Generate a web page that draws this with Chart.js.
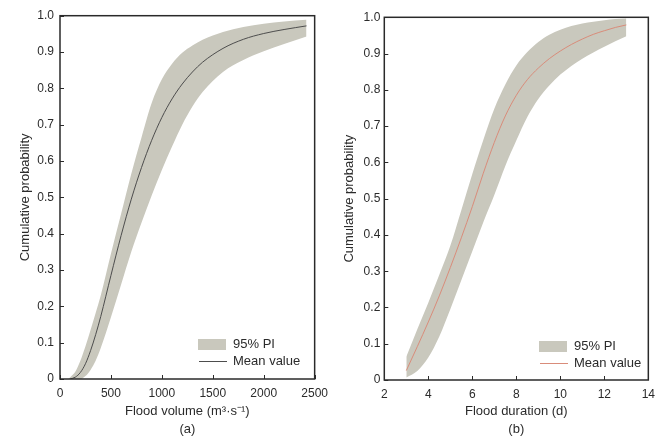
<!DOCTYPE html>
<html>
<head>
<meta charset="utf-8">
<script src="https://cdn.jsdelivr.net/npm/chart.js@4.4.0/dist/chart.umd.min.js"></script>
<style>
  body { margin: 0; background: #fff; width: 662px; height: 437px; position: relative; overflow: hidden; }
  canvas { position: absolute; top: 0; }
  #chartA { left: 0; }
  #chartB { left: 331px; }
</style>
</head>
<body>
<canvas id="chartA" width="335" height="437"></canvas>
<canvas id="chartB" width="331" height="437"></canvas>
<script>
// (a) flood volume
var volX     = [80, 100, 150, 200, 250, 300, 350, 400, 500, 600, 700, 800, 900, 1000, 1100, 1200, 1300, 1400, 1600, 1800, 2000, 2200, 2420];
var volUpper = [0, 0.005, 0.02, 0.05, 0.09, 0.135, 0.182, 0.23, 0.345, 0.455, 0.565, 0.665, 0.76, 0.825, 0.868, 0.898, 0.918, 0.934, 0.955, 0.969, 0.978, 0.984, 0.989];
var volMean  = [null, 0, 0.005, 0.018, 0.042, 0.078, 0.122, 0.172, 0.285, 0.395, 0.495, 0.582, 0.657, 0.72, 0.771, 0.812, 0.845, 0.872, 0.91, 0.935, 0.951, 0.962, 0.972];
var volLower = [0, 0, 0, 0, 0.008, 0.025, 0.05, 0.085, 0.17, 0.26, 0.35, 0.43, 0.505, 0.575, 0.64, 0.7, 0.75, 0.79, 0.845, 0.878, 0.902, 0.922, 0.943];
var volTicks = [0, 500, 1000, 1500, 2000, 2500];

// (b) flood duration
var durX     = [3, 3.5, 4, 4.5, 5, 5.5, 6, 6.5, 7, 7.5, 8, 8.5, 9, 9.5, 10, 10.5, 11, 11.5, 12, 12.5, 13];
var durUpper = [0.064, 0.14, 0.213, 0.29, 0.37, 0.468, 0.568, 0.662, 0.748, 0.815, 0.867, 0.904, 0.932, 0.952, 0.966, 0.976, 0.983, 0.988, 0.992, 0.995, 0.997];
var durMean  = [0.026, 0.092, 0.16, 0.232, 0.31, 0.392, 0.478, 0.57, 0.655, 0.728, 0.785, 0.828, 0.86, 0.886, 0.907, 0.925, 0.94, 0.953, 0.963, 0.972, 0.979];
var durLower = [0.007, 0.025, 0.062, 0.12, 0.195, 0.275, 0.355, 0.435, 0.51, 0.59, 0.66, 0.725, 0.775, 0.812, 0.842, 0.866, 0.886, 0.903, 0.919, 0.934, 0.948];
var durTicks = [2, 4, 6, 8, 10, 12, 14];

var probTicks = [0, 0.1, 0.2, 0.3, 0.4, 0.5, 0.6, 0.7, 0.8, 0.9, 1.0];

var bandColor = '#c9c8bd';
var textColor = '#2b2b2b';

function pts(xs, ys) {
  return xs.map(function (x, i) { return { x: x, y: ys[i] }; });
}

// box round the plot and short ticks pointing inwards
var frameAndTicks = {
  id: 'frameAndTicks',
  afterDatasetsDraw: function (chart) {
    var ctx = chart.ctx, a = chart.chartArea;
    var xs = chart.scales.x, ys = chart.scales.y;
    ctx.save();
    ctx.strokeStyle = '#2a2a2a';
    ctx.lineWidth = 1;
    ctx.beginPath();
    xs.ticks.forEach(function (t) {
      var px = Math.round(xs.getPixelForValue(t.value)) + 0.5;
      ctx.moveTo(px, a.bottom);
      ctx.lineTo(px, a.bottom - 4);
    });
    ys.ticks.forEach(function (t) {
      var py = Math.round(ys.getPixelForValue(t.value)) + 0.5;
      ctx.moveTo(a.left, py);
      ctx.lineTo(a.left + 4, py);
    });
    ctx.stroke();
    ctx.lineWidth = 1.5;
    ctx.strokeRect(a.left, a.top, a.right - a.left, a.bottom - a.top);
    ctx.restore();
  }
};

// legend drawn inside the plot, lower right
var bandLegend = {
  id: 'bandLegend',
  afterDraw: function (chart, args, opts) {
    var ctx = chart.ctx;
    var ds = chart.data.datasets;
    var x = opts.x, y = opts.y;
    ctx.save();
    ctx.fillStyle = bandColor;
    ctx.fillRect(x, y, 28, 11);
    ctx.strokeStyle = ds[0].borderColor;
    ctx.lineWidth = 1;
    ctx.beginPath();
    ctx.moveTo(x + 1, y + 22.5);
    ctx.lineTo(x + 29, y + 22.5);
    ctx.stroke();
    ctx.fillStyle = textColor;
    ctx.font = '13px "Liberation Sans", Arial, sans-serif';
    ctx.textBaseline = 'middle';
    ctx.fillText(ds[1].label, x + 35, y + 5.5);
    ctx.fillText(ds[0].label, x + 35, y + 22.5);
    ctx.restore();
  }
};

function makeChart(id, cfg) {
  return new Chart(document.getElementById(id), {
    type: 'line',
    data: {
      datasets: [
        { label: 'Mean value', data: pts(cfg.xs, cfg.mean), borderColor: cfg.meanColor, borderWidth: 1,
          pointRadius: 0, fill: false, cubicInterpolationMode: 'monotone', spanGaps: false },
        { label: '95% PI', data: pts(cfg.xs, cfg.upper), borderWidth: 0, borderColor: 'rgba(0,0,0,0)',
          backgroundColor: bandColor, pointRadius: 0, fill: '+1', cubicInterpolationMode: 'monotone' },
        { label: 'lower', data: pts(cfg.xs, cfg.lower), borderWidth: 0, borderColor: 'rgba(0,0,0,0)',
          pointRadius: 0, fill: false, cubicInterpolationMode: 'monotone' }
      ]
    },
    options: {
      responsive: false,
      animation: false,
      devicePixelRatio: 1,
      layout: { padding: { left: 0, right: cfg.padRight, top: cfg.padTop, bottom: 0 } },
      plugins: {
        legend: { display: false },
        tooltip: { enabled: false },
        bandLegend: { x: cfg.legX, y: cfg.legY }
      },
      scales: {
        x: {
          type: 'linear',
          min: cfg.ticks[0], max: cfg.ticks[cfg.ticks.length - 1],
          afterBuildTicks: function (s) { s.ticks = cfg.ticks.map(function (v) { return { value: v }; }); },
          afterFit: function (s) { s.height = cfg.xHeight; },
          grid: { display: false, drawTicks: false },
          border: { display: false },
          ticks: { color: textColor, padding: 7, maxRotation: 0, autoSkip: false,
                   font: { family: '"Liberation Sans", Arial, sans-serif', size: 12 },
                   callback: function (v) { return String(v); } },
          title: { display: true, text: [cfg.xTitle, cfg.tag], color: textColor,
                   padding: { top: 0, bottom: -2 },
                   font: { family: '"Liberation Sans", Arial, sans-serif', size: 13, lineHeight: 1.4 } }
        },
        y: {
          min: 0, max: 1,
          afterBuildTicks: function (s) { s.ticks = probTicks.map(function (v) { return { value: v }; }); },
          afterFit: function (s) { s.width = cfg.yWidth; },
          grid: { display: false, drawTicks: false },
          border: { display: false },
          ticks: { color: textColor, padding: cfg.yPad, autoSkip: false,
                   font: { family: '"Liberation Sans", Arial, sans-serif', size: 12 },
                   callback: function (v) { return v === 0 ? '0' : v.toFixed(1); } },
          title: { display: true, text: 'Cumulative probability', color: textColor,
                   padding: { top: cfg.yTitlePad, bottom: 0 },
                   font: { family: '"Liberation Sans", Arial, sans-serif', size: 13, lineHeight: 1.2 } }
        }
      }
    },
    plugins: [frameAndTicks, bandLegend]
  });
}

makeChart('chartA', {
  xs: volX, upper: volUpper, mean: volMean, lower: volLower, ticks: volTicks,
  meanColor: '#4d4d4d', xTitle: 'Flood volume (m\u00b3\u00b7s\u207b\u00b9)', tag: '(a)',
  padRight: 3, padTop: 15.7, xHeight: 58, yWidth: 60, yPad: 6, yTitlePad: 18,
  legX: 198, legY: 339
});

makeChart('chartB', {
  xs: durX, upper: durUpper, mean: durMean, lower: durLower, ticks: durTicks,
  meanColor: '#d98c7a', xTitle: 'Flood duration (d)', tag: '(b)',
  padRight: 5, padTop: 17.3, xHeight: 57, yWidth: 53.3, yPad: 4, yTitlePad: 10.5,
  legX: 208, legY: 341
});
</script>
</body>
</html>
